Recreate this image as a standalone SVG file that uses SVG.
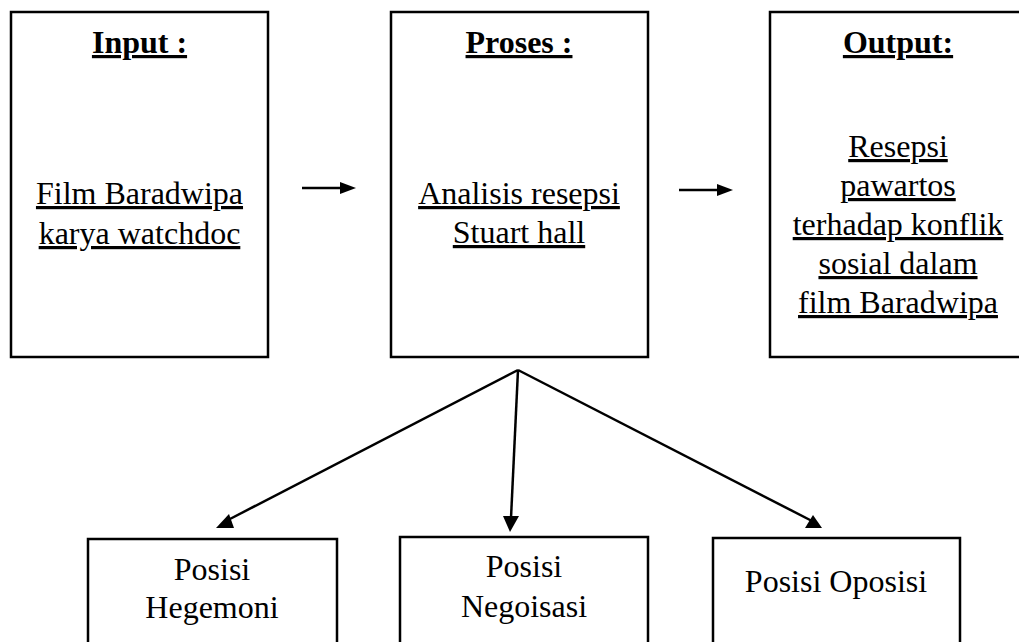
<svg xmlns="http://www.w3.org/2000/svg" width="1019" height="642" viewBox="0 0 1019 642">
<style>
.box{fill:#fff;stroke:#000;stroke-width:2.5}
.t{font-family:'Liberation Serif','Times New Roman','DejaVu Serif',serif;font-size:32px;fill:#000;text-anchor:middle}
.b{font-weight:bold}
.u{text-decoration:underline}
.ln{stroke:#000;stroke-width:2.5;fill:none}
.ah{fill:#000;stroke:none}
</style>
<rect width="1019" height="642" fill="#fff"/>
<g id="input">
<rect class="box" x="11" y="12" width="257" height="345"/>
<text class="t b u" x="139.5" y="53">Input :</text>
<text class="t u" x="139.5" y="204">Film Baradwipa</text>
<text class="t u" x="139.5" y="244">karya watchdoc</text>
</g>
<g id="proses">
<rect class="box" x="391" y="12" width="257" height="345"/>
<text class="t b u" x="519" y="53">Proses :</text>
<text class="t u" x="519" y="204">Analisis resepsi</text>
<text class="t u" x="519" y="243">Stuart hall</text>
</g>
<g id="output">
<rect class="box" x="770" y="12" width="262" height="345"/>
<text class="t b u" x="898" y="53">Output:</text>
<text class="t u" x="898" y="157">Resepsi</text>
<text class="t u" x="898" y="196">pawartos</text>
<text class="t u" x="898" y="235">terhadap konflik</text>
<text class="t u" x="898" y="274">sosial dalam</text>
<text class="t u" x="898" y="313">film Baradwipa</text>
</g>
<g id="hegemoni">
<rect class="box" x="88" y="539" width="249" height="115"/>
<text class="t" x="212" y="580">Posisi</text>
<text class="t" x="212" y="618">Hegemoni</text>
</g>
<g id="negoisasi">
<rect class="box" x="400" y="537" width="248" height="117"/>
<text class="t" x="524" y="577">Posisi</text>
<text class="t" x="524" y="617">Negoisasi</text>
</g>
<g id="oposisi">
<rect class="box" x="713" y="538" width="247" height="116"/>
<text class="t" x="836" y="592">Posisi Oposisi</text>
</g>
<g id="connectors">
<line class="ln" x1="302" y1="188" x2="342" y2="188"/>
<polygon class="ah" points="340,182 356,188 340,194"/>
<line class="ln" x1="679" y1="190" x2="719" y2="190"/>
<polygon class="ah" points="717,184 733,190 717,196"/>
<line class="ln" x1="518" y1="370" x2="228" y2="520"/>
<polygon class="ah" points="216,528 234,528 229,514"/>
<line class="ln" x1="518" y1="370" x2="511" y2="518"/>
<polygon class="ah" points="503,516 519,516 510,532"/>
<line class="ln" x1="518" y1="370" x2="812" y2="521"/>
<polygon class="ah" points="805,528 822,528 813,515"/>
</g>
</svg>
